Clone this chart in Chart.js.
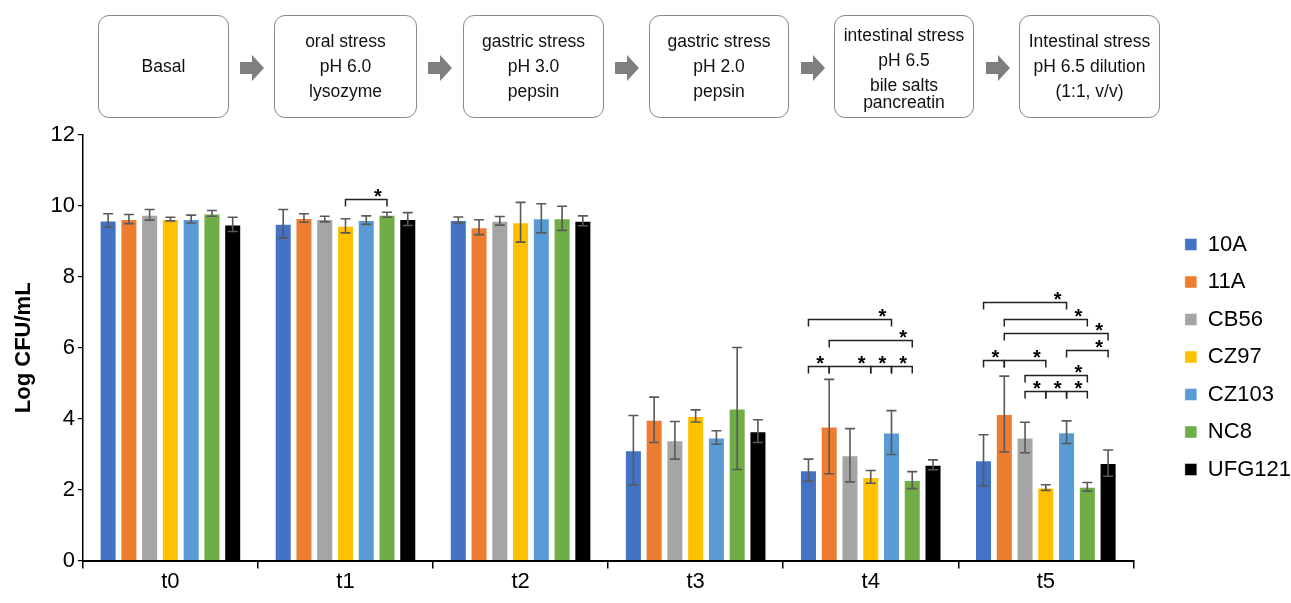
<!DOCTYPE html>
<html>
<head>
<meta charset="utf-8">
<script src="https://cdn.jsdelivr.net/npm/chart.js@4.4.1/dist/chart.umd.min.js"></script>
<style>
  body { margin: 0; background: #fff; }
  #wrap { position: relative; width: 1291px; height: 603px; font-family: Arial, "Liberation Sans", sans-serif; }
  #chart { position: absolute; left: 0; top: 0; }
  .step {
    position: absolute; top: 15px; height: 103px; box-sizing: border-box;
    border: 1px solid #8a8a8a; border-radius: 11px;
    display: flex; flex-direction: column; justify-content: center; align-items: center;
    font-size: 17.5px; line-height: 25px; color: #111; text-align: center;
  }
  .step.tight div:last-child { line-height: 17px; margin-top: -4px; }
  .arrow { position: absolute; top: 55px; }
</style>
</head>
<body>
<div id="wrap">
  <canvas id="chart" width="1291" height="603"></canvas>
  <div id="flow"></div>
</div>
<script>
/* ====================
   DATA
==================== */
const categories = ["t0", "t1", "t2", "t3", "t4", "t5"];
const strains = ["10A", "11A", "CB56", "CZ97", "CZ103", "NC8", "UFG121"];

// mean Log CFU/mL per time point
const mean10A   = [9.59, 9.50, 9.60, 3.11, 2.55, 2.83];
const mean11A   = [9.63, 9.66, 9.40, 3.97, 3.78, 4.13];
const meanCB56  = [9.75, 9.63, 9.58, 3.39, 2.97, 3.47];
const meanCZ97  = [9.63, 9.44, 9.54, 4.08, 2.36, 2.06];
const meanCZ103 = [9.63, 9.60, 9.65, 3.47, 3.61, 3.62];
const meanNC8   = [9.79, 9.75, 9.65, 4.29, 2.27, 2.08];
const meanUFG121 = [9.48, 9.63, 9.58, 3.65, 2.70, 2.75];

// error bar half-lengths
const err10A   = [0.19, 0.40, 0.09, 0.98, 0.31, 0.72];
const err11A   = [0.13, 0.12, 0.21, 0.64, 1.33, 1.07];
const errCB56  = [0.15, 0.08, 0.12, 0.53, 0.75, 0.43];
const errCZ97  = [0.05, 0.20, 0.56, 0.17, 0.18, 0.08];
const errCZ103 = [0.11, 0.12, 0.41, 0.19, 0.62, 0.32];
const errNC8   = [0.08, 0.07, 0.34, 1.72, 0.24, 0.12];
const errUFG121 = [0.20, 0.18, 0.14, 0.32, 0.14, 0.37];

// significance brackets: [time point, strain from, strain to, height (Log CFU/mL)]
const sigBrackets = [
  [1, 3, 5, 10.2],
  [4, 0, 4, 6.81], [4, 1, 5, 6.23],
  [4, 0, 1, 5.49], [4, 1, 3, 5.49], [4, 3, 4, 5.49], [4, 4, 5, 5.49],
  [5, 0, 4, 7.30], [5, 1, 5, 6.82], [5, 1, 6, 6.42], [5, 4, 6, 5.94],
  [5, 0, 1, 5.66], [5, 1, 3, 5.66], [5, 2, 5, 5.24],
  [5, 2, 3, 4.77], [5, 3, 4, 4.77], [5, 4, 5, 4.77]
];

const stepLines = [
  ["Basal"],
  ["oral stress", "pH 6.0", "lysozyme"],
  ["gastric stress", "pH 3.0", "pepsin"],
  ["gastric stress", "pH 2.0", "pepsin"],
  ["intestinal stress", "pH 6.5", "bile salts", "pancreatin"],
  ["Intestinal stress", "pH 6.5 dilution", "(1:1, v/v)"]
];

/* ====================
   FLOW BOXES
==================== */
const stepLeft = [98, 274, 463, 649, 834, 1019];
const stepWidth = [131, 143, 141, 140, 140, 141];
const arrowLeft = [240, 428, 615, 801, 986];

const flow = document.getElementById("flow");
stepLines.forEach((lines, i) => {
  const box = document.createElement("div");
  box.className = "step" + (lines.length > 3 ? " tight" : "");
  box.style.left = stepLeft[i] + "px";
  box.style.width = stepWidth[i] + "px";
  lines.forEach(t => {
    const line = document.createElement("div");
    line.textContent = t;
    box.appendChild(line);
  });
  flow.appendChild(box);
});
arrowLeft.forEach(x => {
  const a = document.createElement("div");
  a.className = "arrow";
  a.style.left = x + "px";
  a.innerHTML = '<svg width="24" height="26"><polygon points="0,7 12,7 12,0 24,13 12,26 12,19 0,19" fill="#7f7f7f"/></svg>';
  flow.appendChild(a);
});

/* ====================
   PLUGINS
==================== */
const errorBars = {
  id: "errorBars",
  afterDatasetsDraw(chart) {
    const { ctx, scales: { y } } = chart;
    ctx.save();
    ctx.strokeStyle = "#595959";
    ctx.lineWidth = 1.6;
    chart.data.datasets.forEach((ds, i) => {
      chart.getDatasetMeta(i).data.forEach((bar, j) => {
        const hi = y.getPixelForValue(ds.data[j] + ds.errors[j]);
        const lo = y.getPixelForValue(ds.data[j] - ds.errors[j]);
        ctx.beginPath();
        ctx.moveTo(bar.x, hi); ctx.lineTo(bar.x, lo);
        ctx.moveTo(bar.x - 5, hi); ctx.lineTo(bar.x + 5, hi);
        ctx.moveTo(bar.x - 5, lo); ctx.lineTo(bar.x + 5, lo);
        ctx.stroke();
      });
    });
    ctx.restore();
  }
};

const sigMarks = {
  id: "sigMarks",
  afterDatasetsDraw(chart) {
    const { ctx, scales: { y } } = chart;
    ctx.save();
    ctx.strokeStyle = "#222";
    ctx.lineWidth = 1.5;
    ctx.fillStyle = "#000";
    ctx.font = "bold 20px Arial";
    ctx.textAlign = "center";
    ctx.textBaseline = "alphabetic";
    sigBrackets.forEach(([cat, a, b, level]) => {
      const x1 = chart.getDatasetMeta(a).data[cat].x;
      const x2 = chart.getDatasetMeta(b).data[cat].x;
      const yy = Math.round(y.getPixelForValue(level)) + 0.5;
      ctx.beginPath();
      ctx.moveTo(x1, yy + 7); ctx.lineTo(x1, yy);
      ctx.lineTo(x2, yy); ctx.lineTo(x2, yy + 7);
      ctx.stroke();
      ctx.fillText("*", Math.max((x1 + x2) / 2, x2 - 9), yy + 3);
    });
    ctx.restore();
  }
};

// legend sits a little away from the plot area
const legendPlace = {
  id: "legendPlace",
  beforeInit(chart) {
    const legend = chart.legend;
    const fit = legend.fit.bind(legend);
    legend.fit = function () { fit(); this.width += 26; };
  },
  afterLayout(chart) {
    const legend = chart.legend;
    legend.left += 36; legend.right += 36;
    legend.top -= 8; legend.bottom -= 8;
  }
};

/* ====================
   CHART
==================== */
const colors = ["#4472C4", "#ED7D31", "#A5A5A5", "#FFC000", "#5B9BD5", "#70AD47", "#000000"];
const means = [mean10A, mean11A, meanCB56, meanCZ97, meanCZ103, meanNC8, meanUFG121];
const errs = [err10A, err11A, errCB56, errCZ97, errCZ103, errNC8, errUFG121];

const axisFont = { family: "Arial", size: 22 };

new Chart(document.getElementById("chart"), {
  type: "bar",
  data: {
    labels: categories,
    datasets: strains.map((s, i) => ({
      label: s,
      data: means[i],
      errors: errs[i],
      backgroundColor: colors[i],
      borderColor: "rgba(255,255,255,0.45)",
      borderWidth: 1,
      categoryPercentage: 0.83,
      barPercentage: 0.82
    }))
  },
  options: {
    responsive: false,
    devicePixelRatio: 1,
    animation: false,
    layout: { padding: { top: 135, bottom: 8, left: 11, right: 0 } },
    plugins: {
      tooltip: { enabled: false },
      legend: {
        position: "right",
        labels: { font: axisFont, color: "#000", boxWidth: 12, boxHeight: 12, padding: 15.5 }
      }
    },
    scales: {
      x: {
        grid: { drawOnChartArea: false, tickLength: 8, color: "#000", lineWidth: 1.5, offset: true },
        border: { color: "#000", width: 2 },
        ticks: { color: "#000", font: axisFont, padding: 0 }
      },
      y: {
        min: 0,
        max: 12,
        ticks: { stepSize: 2, color: "#000", font: axisFont, padding: 3 },
        grid: { drawOnChartArea: false, tickLength: 5, color: "#000", lineWidth: 1.2 },
        border: { color: "#000", width: 1.5 },
        title: {
          display: true,
          text: "Log CFU/mL",
          color: "#000",
          font: { family: "Arial", size: 22, weight: "bold" },
          padding: { top: 0, bottom: 10 }
        }
      }
    }
  },
  plugins: [errorBars, sigMarks, legendPlace]
});
</script>
</body>
</html>
